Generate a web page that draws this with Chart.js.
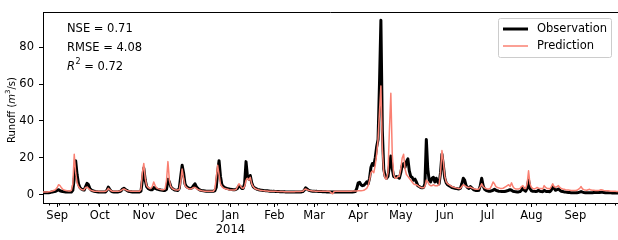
<!DOCTYPE html>
<html>
<head>
<meta charset="utf-8">
<script src="https://cdn.jsdelivr.net/npm/chart.js@4"></script>
<style>html,body{margin:0;padding:0;background:#fff}</style>
</head>
<body>
<canvas id="runoffChart" width="618" height="240"></canvas>
<script>
// daily series, first value is 2013-08-22
const startDate = Date.UTC(2013, 7, 22);

const observation = [
  1.2,1.2,1.1,1.1,1.2,1.3,1.5,1.6,1.8,2.0,
  2.4,2.8,2.2,2.0,1.8,1.7,1.6,1.5,1.5,1.6,
  1.6,2.5,9.0,18.5,11.0,6.0,4.0,3.2,2.8,2.6,
  4.5,6.2,5.5,3.5,2.6,2.2,2.0,1.8,1.7,1.6,
  1.6,1.5,1.5,1.5,1.6,2.5,4.2,3.0,2.0,1.7,
  1.6,1.5,1.5,1.6,1.8,2.2,3.2,3.6,3.0,2.4,
  2.0,1.8,1.7,1.6,1.5,1.5,1.5,1.5,1.6,2.0,
  8.0,14.5,8.0,4.5,3.5,3.0,2.8,2.8,4.0,3.5,
  3.2,3.0,2.8,2.6,2.5,2.4,2.4,3.0,8.5,7.0,
  4.5,3.5,3.0,2.6,2.5,2.4,3.5,10.0,16.0,12.0,
  6.0,4.5,4.0,3.6,3.5,3.8,5.0,6.0,4.5,3.5,
  2.8,2.5,2.3,2.2,2.1,2.0,2.0,2.0,2.0,2.0,
  2.0,2.2,4.0,12.0,18.5,10.0,5.5,4.5,4.0,3.6,
  3.4,3.2,3.0,2.9,2.8,2.8,3.0,3.5,5.0,4.5,
  3.5,3.5,6.0,18.0,10.0,8.5,10.5,6.5,4.5,3.8,
  3.4,3.0,2.8,2.6,2.5,2.4,2.3,2.2,2.2,2.1,
  2.0,2.0,1.9,1.9,1.8,1.8,1.8,1.7,1.7,1.7,
  1.7,1.6,1.6,1.6,1.5,1.5,1.5,1.5,1.5,1.5,
  1.5,1.5,1.6,1.8,2.5,3.8,3.2,2.6,2.3,2.1,
  2.0,2.0,1.9,1.9,1.8,1.8,1.8,1.7,1.7,1.7,
  1.6,1.6,1.6,1.6,1.6,1.5,1.5,1.5,1.5,1.5,
  1.5,1.5,1.5,1.5,1.5,1.6,1.6,1.6,1.6,1.7,
  1.8,3.5,6.5,6.8,5.5,5.0,5.2,6.0,7.0,6.0,
  9.0,15.0,17.0,16.0,20.0,26.0,30.0,60.0,94.5,35.0,
  14.0,10.0,9.0,10.0,16.0,21.0,14.0,10.0,9.5,10.0,
  9.5,9.0,12.0,16.0,17.0,15.0,18.0,19.5,13.0,10.0,
  9.5,8.0,8.5,7.0,5.0,4.5,4.0,3.8,4.0,6.0,
  30.0,14.0,8.0,7.0,9.0,9.5,7.0,9.0,7.0,6.0,
  12.0,22.0,16.0,9.0,6.5,5.5,5.0,4.5,4.0,3.8,
  3.6,3.5,3.3,3.2,3.5,6.0,9.0,8.0,5.0,4.0,
  3.5,4.5,3.8,3.0,2.6,2.4,2.3,2.5,5.0,9.0,
  5.0,3.0,2.5,2.2,2.0,2.0,2.2,2.5,3.0,2.5,
  2.2,2.0,1.9,1.8,1.8,1.8,2.0,2.2,2.5,2.8,
  2.5,2.0,1.8,1.7,1.6,1.6,1.8,2.5,4.0,2.5,
  2.0,3.5,8.0,3.5,2.2,2.0,1.9,1.8,2.0,2.5,
  2.0,1.8,1.7,2.5,2.0,1.8,1.8,1.7,2.5,4.5,
  3.5,2.5,2.8,3.2,2.5,2.0,1.8,1.6,1.5,1.4,
  1.3,1.3,1.2,1.2,1.2,1.2,1.2,1.3,1.5,1.8,
  1.5,1.3,1.2,1.2,1.2,1.2,1.2,1.2,1.3,1.3,
  1.3,1.3,1.3,1.4,1.4,1.3,1.2,1.2,1.2,1.1,
  1.1,1.0,1.0,1.0,1.0,1.0
];

const prediction = [
  1.5,1.5,1.5,1.6,1.7,1.8,2.0,2.2,2.5,3.0,
  4.0,5.5,5.0,3.8,3.0,2.6,2.4,2.2,2.1,2.1,
  2.5,6.0,22.0,12.0,6.5,4.5,3.5,3.0,2.7,2.8,
  4.0,4.2,3.5,2.8,2.4,2.2,2.0,2.0,1.9,1.9,
  1.8,1.8,1.8,1.8,1.9,2.4,3.5,2.8,2.2,2.0,
  1.9,1.9,1.9,2.0,2.1,2.4,2.9,3.2,2.8,2.4,
  2.2,2.1,2.0,2.0,1.9,1.9,1.9,1.9,2.0,3.0,
  12.0,17.0,9.0,5.0,4.0,3.5,3.5,4.5,7.0,5.0,
  3.8,3.4,3.1,2.9,2.8,2.8,3.2,8.0,18.0,8.0,
  4.5,3.5,3.0,2.8,2.7,2.6,3.0,7.0,14.0,9.0,
  5.0,4.0,3.5,3.2,3.2,3.5,4.0,4.0,3.5,3.0,
  2.6,2.4,2.2,2.1,2.0,1.9,1.9,1.9,1.9,1.9,
  2.0,3.0,9.0,16.0,11.0,6.0,4.5,3.8,3.4,3.2,
  3.0,2.8,2.7,2.6,2.6,2.6,3.0,4.5,6.0,5.0,
  3.8,3.5,4.5,8.0,9.0,8.0,9.5,6.0,4.5,3.6,
  3.2,2.9,2.7,2.5,2.4,2.3,2.2,2.1,2.1,2.0,
  2.0,2.0,1.9,1.9,1.9,1.8,1.8,1.8,1.8,1.8,
  1.7,1.7,1.7,1.7,1.7,1.7,1.7,1.7,1.8,1.8,
  1.8,1.8,1.9,2.0,2.8,3.2,2.8,2.5,2.3,2.2,
  2.1,2.1,2.0,2.0,2.0,2.0,2.0,2.0,2.0,2.0,
  2.0,2.0,1.8,1.0,0.6,1.8,2.0,2.0,2.0,2.0,
  2.0,2.0,2.0,2.0,2.0,2.0,2.0,2.0,2.1,2.1,
  2.1,2.1,2.2,2.2,2.2,2.3,2.5,3.0,3.5,5.0,
  8.0,12.0,13.0,12.0,16.0,22.0,30.0,45.0,59.0,25.0,
  12.0,9.0,8.5,12.0,35.0,55.0,22.0,11.0,9.0,9.0,
  10.0,10.0,14.0,20.0,22.0,14.0,11.0,10.0,9.0,8.0,
  7.0,6.0,5.5,5.5,5.0,4.5,4.0,3.8,3.8,4.5,
  8.0,7.0,5.5,5.0,5.0,5.5,5.0,5.0,5.0,5.5,
  12.0,24.0,18.0,10.0,7.0,6.0,5.5,5.0,4.5,4.2,
  4.0,3.8,3.6,3.5,3.5,4.5,5.5,5.0,4.5,4.0,
  4.0,4.2,3.8,3.4,3.2,3.0,3.0,3.2,4.5,6.0,
  4.5,3.8,3.4,3.2,3.2,3.5,5.0,7.0,6.0,4.5,
  4.0,3.8,3.5,3.5,3.6,4.0,4.5,5.0,5.5,4.5,
  6.5,4.5,3.5,3.2,3.2,3.2,3.5,4.5,5.0,3.5,
  3.5,6.0,13.0,6.0,4.0,3.5,3.2,3.5,4.0,3.6,
  3.5,3.4,3.2,5.0,4.0,3.5,3.4,3.2,4.5,6.0,
  4.5,4.0,4.5,5.0,4.0,3.5,3.2,3.0,2.8,2.7,
  2.6,2.5,2.4,2.4,2.4,2.4,2.5,3.0,3.5,4.5,
  3.2,2.8,2.6,2.5,2.8,3.0,2.6,2.5,2.5,2.4,
  2.4,2.4,2.5,2.8,2.6,2.4,2.3,2.2,2.2,2.1,
  2.0,2.0,1.9,1.9,1.8,1.8
];

const monthStarts = ['2013-09-01','2013-10-01','2013-11-01','2013-12-01','2014-01-01','2014-02-01',
  '2014-03-01','2014-04-01','2014-05-01','2014-06-01','2014-07-01','2014-08-01','2014-09-01'];
const monthLabels = ['Sep','Oct','Nov','Dec',['Jan','2014'],'Feb','Mar','Apr','May','Jun','Jul','Aug','Sep'];
const yTicks = [0, 20, 40, 60, 80];

const DAY = 86400000;
const FONT = '"DejaVu Sans", sans-serif';
const dayOf = s => Math.round((Date.parse(s + 'T00:00:00Z') - startDate) / DAY);
const monthDays = monthStarts.map(dayOf);

const toPoints = arr => arr.map((v, i) => ({x: i, y: v}));

// text, box, minor ticks, legend drawn like matplotlib
const extras = {
  id: 'extras',
  afterDraw(chart) {
    const {ctx, chartArea: a} = chart;
    const x = chart.scales.x;
    ctx.save();

    ctx.strokeStyle = '#000';
    ctx.lineWidth = 1;
    ctx.beginPath();
    ctx.moveTo(a.left, a.top + 0.5);
    ctx.lineTo(a.right, a.top + 0.5);
    ctx.stroke();

    // weekly minor ticks (mondays)
    ctx.beginPath();
    for (let d = 0; d <= x.max; d++) {
      if (new Date(startDate + d * DAY).getUTCDay() !== 1) continue;
      const px = Math.round(x.getPixelForValue(d)) + 0.5;
      ctx.moveTo(px, a.bottom);
      ctx.lineTo(px, a.bottom + 2.5);
    }
    ctx.stroke();

    // stats
    ctx.fillStyle = '#000';
    ctx.textBaseline = 'middle';
    ctx.textAlign = 'left';
    ctx.font = '11.5px ' + FONT;
    ctx.fillText('NSE = 0.71', 67, 29);
    ctx.fillText('RMSE = 4.08', 67, 48);
    ctx.font = 'italic 11.5px ' + FONT;
    ctx.fillText('R', 67, 67);
    let cx = 67 + ctx.measureText('R').width + 0.5;
    ctx.font = '8px ' + FONT;
    ctx.fillText('2', cx, 62);
    cx += ctx.measureText('2').width;
    ctx.font = '11.5px ' + FONT;
    ctx.fillText(' = 0.72', cx, 67);

    // y axis title
    ctx.save();
    ctx.translate(12, 110);
    ctx.rotate(-Math.PI / 2);
    const parts = [
      ['Runoff (', '10px ' + FONT, 0],
      ['m', 'italic 10px ' + FONT, 0],
      ['3', '7px ' + FONT, -4],
      ['/s)', '10px ' + FONT, 0]
    ];
    let total = 0;
    parts.forEach(p => { ctx.font = p[1]; total += ctx.measureText(p[0]).width; });
    let tx = -total / 2;
    parts.forEach(p => {
      ctx.font = p[1];
      ctx.fillText(p[0], tx, p[2]);
      tx += ctx.measureText(p[0]).width;
    });
    ctx.restore();

    // legend
    ctx.fillStyle = 'rgba(255,255,255,0.8)';
    ctx.strokeStyle = '#cccccc';
    ctx.lineWidth = 1;
    ctx.beginPath();
    ctx.roundRect(498.5, 18.5, 113, 39, 2);
    ctx.fill();
    ctx.stroke();

    ctx.lineCap = 'butt';
    ctx.strokeStyle = '#000';
    ctx.lineWidth = 3;
    ctx.beginPath(); ctx.moveTo(503, 29); ctx.lineTo(528, 29); ctx.stroke();
    ctx.strokeStyle = 'salmon';
    ctx.lineWidth = 1.5;
    ctx.beginPath(); ctx.moveTo(503, 46); ctx.lineTo(528, 46); ctx.stroke();

    ctx.fillStyle = '#000';
    ctx.font = '11.5px ' + FONT;
    ctx.fillText('Observation', 537, 29);
    ctx.fillText('Prediction', 537, 46);

    ctx.restore();
  }
};

new Chart(document.getElementById('runoffChart'), {
  type: 'line',
  data: {
    datasets: [{
      label: 'Observation',
      data: toPoints(observation),
      borderColor: '#000',
      borderWidth: 3,
      pointRadius: 0,
      tension: 0,
      borderJoinStyle: 'round',
      order: 1
    }, {
      label: 'Prediction',
      data: toPoints(prediction),
      borderColor: 'salmon',
      borderWidth: 1.5,
      pointRadius: 0,
      tension: 0,
      borderJoinStyle: 'round',
      order: 0
    }]
  },
  options: {
    responsive: false,
    animation: false,
    layout: {padding: {top: 12, right: 0, left: 0, bottom: 0}},
    plugins: {legend: {display: false}, tooltip: {enabled: false}},
    scales: {
      x: {
        type: 'linear',
        min: 0,
        max: observation.length - 1,
        afterFit: s => { s.height = 37; },
        afterBuildTicks: s => { s.ticks = monthDays.map(v => ({value: v})); },
        grid: {drawOnChartArea: false, tickLength: 4, tickColor: '#000'},
        border: {color: '#000', width: 1},
        ticks: {
          autoSkip: false,
          maxRotation: 0,
          padding: 2,
          color: '#000',
          font: {family: FONT, size: 11.5},
          callback: v => monthLabels[monthDays.indexOf(v)]
        }
      },
      y: {
        min: -4.4,
        max: 99,
        afterFit: s => { s.width = 43; },
        afterBuildTicks: s => { s.ticks = yTicks.map(v => ({value: v})); },
        grid: {drawOnChartArea: false, tickLength: 4, tickColor: '#000'},
        border: {color: '#000', width: 1},
        ticks: {
          padding: 5,
          color: '#000',
          font: {family: FONT, size: 11.5}
        }
      }
    }
  },
  plugins: [extras]
});
</script>
</body>
</html>
